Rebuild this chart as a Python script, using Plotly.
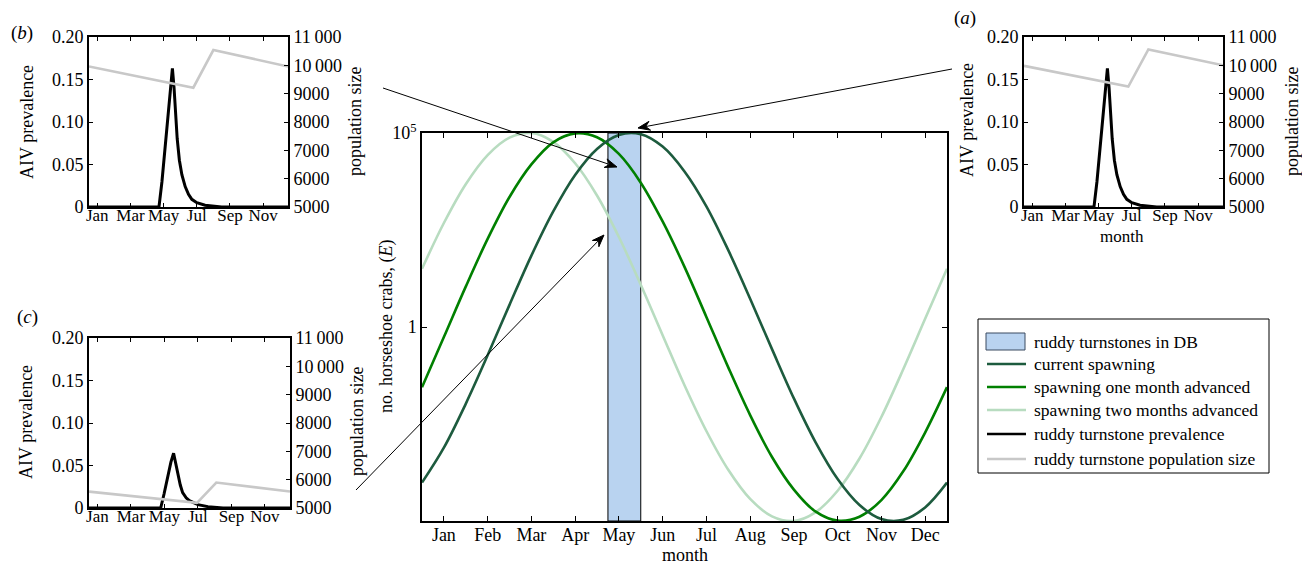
import math
import plotly.graph_objects as go

# The page body has an 8 px default margin, so the figure is made 8 px smaller
# and all reference pixel positions are measured from the window's top-left corner.
OFF = 8
W, H = 1310 - OFF, 565 - OFF
FONT = "Liberation Serif, Times New Roman, serif"

# ---------------- data ----------------
months_main = ["Jan", "Feb", "Mar", "Apr", "May", "Jun", "Jul", "Aug", "Sep", "Oct", "Nov", "Dec"]
month_ticks_main = [0.5, 1.5, 2.5, 3.5, 4.5, 5.5, 6.5, 7.5, 8.5, 9.5, 10.5, 11.5]
months_small = ["Jan", "Mar", "May", "Jul", "Sep", "Nov"]
month_ticks_small = [0.5, 2.5, 4.5, 6.5, 8.5, 10.5]

# main panel: time in months, log10 of number of horseshoe crab eggs
t_main = [0, 0.5, 1, 1.5, 2, 2.5, 3, 3.5, 4, 4.5, 5, 5.5, 6, 6.5, 7, 7.5, 8, 8.5, 9, 9.5,
          10, 10.5, 11, 11.5, 12]
log10_E_current = [-4.01, -3.11, -1.98, -0.73, 0.57, 1.84, 2.98, 3.92, 4.59, 4.95, 4.97, 4.65,
                   4.01, 3.11, 1.98, 0.73, -0.57, -1.84, -2.98, -3.92, -4.59, -4.95, -4.97,
                   -4.65, -4.01]
log10_E_one_month = [-1.55, -0.26, 1.04, 2.27, 3.35, 4.19, 4.76, 4.99, 4.89, 4.46, 3.72, 2.72,
                     1.55, 0.26, -1.04, -2.27, -3.35, -4.19, -4.76, -4.99, -4.89, -4.46, -3.72,
                     -2.72, -1.55]
log10_E_two_months = [1.50, 2.68, 3.68, 4.43, 4.88, 5.00, 4.77, 4.22, 3.39, 2.32, 1.09, -0.21,
                      -1.50, -2.68, -3.68, -4.43, -4.88, -5.00, -4.77, -4.22, -3.39, -2.32,
                      -1.09, 0.21, 1.50]
turnstone_window = [4.25, 5.0]  # months: ruddy turnstones in Delaware Bay

# panel (a): current spawning
prev_a_t = [0, 4.22, 4.4, 4.6, 4.8, 4.95, 5.03, 5.13, 5.22, 5.32, 5.45, 5.6, 5.8, 6.0, 6.2, 6.5,
            7.0, 7.5, 8.0, 12]
prev_a = [0, 0, 0.03, 0.075, 0.12, 0.152, 0.163, 0.14, 0.11, 0.08, 0.055, 0.038, 0.024, 0.015,
          0.009, 0.005, 0.002, 0.001, 0, 0]
pop_a_t = [0, 6.29, 7.5, 12]
pop_a = [9980, 9250, 10560, 10000]

# panel (b): spawning one month advanced
prev_b_t = [0, 4.22, 4.4, 4.6, 4.8, 4.95, 5.03, 5.13, 5.22, 5.32, 5.45, 5.6, 5.8, 6.0, 6.2, 6.5,
            7.0, 7.5, 8.0, 12]
prev_b = [0, 0, 0.03, 0.075, 0.12, 0.152, 0.163, 0.14, 0.11, 0.08, 0.055, 0.038, 0.024, 0.015,
          0.009, 0.005, 0.002, 0.001, 0, 0]
pop_b_t = [0, 6.29, 7.5, 12]
pop_b = [9960, 9210, 10540, 9960]

# panel (c): spawning two months advanced
prev_c_t = [0, 4.28, 4.48, 4.69, 4.89, 5.05, 5.17, 5.29, 5.45, 5.59, 5.8, 5.99, 6.5, 7.1, 8.0, 12]
prev_c = [0, 0, 0.0165, 0.036, 0.054, 0.0644, 0.052, 0.040, 0.027, 0.018, 0.012, 0.0086, 0.004,
          0.0016, 0, 0]
pop_c_t = [0, 6.45, 7.6, 12]
pop_c = [5580, 5180, 5900, 5580]

prev_ticks = [0, 0.05, 0.10, 0.15, 0.20]
prev_labels = ["0", "0.05", "0.10", "0.15", "0.20"]
pop_ticks = [5000, 6000, 7000, 8000, 9000, 10000, 11000]
pop_labels = ["5000", "6000", "7000", "8000", "9000", "10\u2009000", "11\u2009000"]

legend_labels = ["ruddy turnstones in DB", "current spawning", "spawning one month advanced",
                 "spawning two months advanced", "ruddy turnstone prevalence",
                 "ruddy turnstone population size"]

# ---------------- styles ----------------
C_CUR = "#1d5b3e"
C_ONE = "#008000"
C_TWO = "#b8dcc0"
C_BAR = "#b9d3f0"
C_PREV = "#000000"
C_POP = "#c8c8c8"
FS = 18


def px(x):
    return (x - OFF) / W


def py(y):
    return 1 - (y - OFF) / H


fig = go.Figure()

# ---------------- main panel ----------------
w0, w1 = turnstone_window
fig.add_trace(go.Scatter(x=[w0, w0, w1, w1, w0], y=[1e-5, 1e5, 1e5, 1e-5, 1e-5], mode="lines",
                         fill="toself", fillcolor=C_BAR, line=dict(color="black", width=1),
                         xaxis="x", yaxis="y", hoverinfo="skip"))
for vals, col in [(log10_E_two_months, C_TWO), (log10_E_one_month, C_ONE),
                  (log10_E_current, C_CUR)]:
    fig.add_trace(go.Scatter(x=t_main, y=[10 ** v for v in vals], mode="lines",
                             line=dict(color=col, width=2.6, shape="spline", smoothing=1.0),
                             xaxis="x", yaxis="y"))

# ---------------- small panels ----------------
panels = [
    ("x2", "y2", "y3", prev_b_t, prev_b, pop_b_t, pop_b),
    ("x3", "y4", "y5", prev_a_t, prev_a, pop_a_t, pop_a),
    ("x4", "y6", "y7", prev_c_t, prev_c, pop_c_t, pop_c),
]
for xa, yl, yr, pt, pv, qt, qv in panels:
    fig.add_trace(go.Scatter(x=qt, y=qv, mode="lines", line=dict(color=C_POP, width=2.6),
                             xaxis=xa, yaxis=yr))
    fig.add_trace(go.Scatter(x=pt, y=pv, mode="lines", line=dict(color=C_PREV, width=3),
                             xaxis=xa, yaxis=yl))


def ax_style(size, lw=1.5):
    return dict(showgrid=False, zeroline=False, showline=True, linecolor="black",
                linewidth=lw, ticks="inside", tickcolor="black", tickwidth=1,
                tickfont=dict(family=FONT, size=size, color="black"), automargin=False,
                tickangle=0)


layout = dict(
    width=W, height=H, margin=dict(l=0, r=0, t=0, b=0, pad=0, autoexpand=False),
    showlegend=False, paper_bgcolor="white", plot_bgcolor="white",
    font=dict(family=FONT, size=FS, color="black"),
    xaxis=dict(domain=[px(422), px(947)], range=[0, 12], tickvals=month_ticks_main,
               ticktext=months_main, anchor="y", mirror="ticks", ticklen=5,
               ticklabelstandoff=-3, **ax_style(FS)),
    yaxis=dict(domain=[py(521), py(133)], type="log", range=[-5, 5], tickvals=[1, 1e5],
               ticktext=["1", "10<sup>5</sup>"], anchor="x", mirror="ticks", ticklen=5,
               **ax_style(FS)),
)

small_dom = {
    "b": ([89, 288], [37, 207]),
    "a": ([1024, 1223], [37, 207]),
    "c": ([89, 290], [338, 508]),
}
for (xn, yln, yrn), key in [((2, 2, 3), "b"), ((3, 4, 5), "a"), ((4, 6, 7), "c")]:
    (x0, x1), (y0, y1) = small_dom[key]
    layout[f"xaxis{xn}"] = dict(domain=[px(x0), px(x1)], range=[0, 12],
                                tickvals=month_ticks_small, ticktext=months_small,
                                anchor=f"y{yln}", mirror="ticks", ticklen=4,
                                ticklabelstandoff=-8, **ax_style(17, 1.8))
    layout[f"yaxis{yln}"] = dict(domain=[py(y1), py(y0)], range=[0, 0.2], tickvals=prev_ticks,
                                 ticktext=prev_labels, anchor=f"x{xn}", ticklen=4,
                                 **ax_style(FS, 1.8))
    layout[f"yaxis{yrn}"] = dict(range=[5000, 11000], tickvals=pop_ticks, ticktext=pop_labels,
                                 overlaying=f"y{yln}", side="right", anchor=f"x{xn}", ticklen=4,
                                 **ax_style(FS, 1.8))

fig.update_layout(**layout)

# ---------------- text annotations ----------------
annots = []


def text(x, y, s, size=FS, angle=0, xanchor="center"):
    annots.append(dict(x=px(x), y=py(y), xref="paper", yref="paper", text=s, showarrow=False,
                       textangle=angle, xanchor=xanchor, yanchor="middle",
                       font=dict(family=FONT, size=size, color="black")))


text(386, 327, "no. horseshoe crabs, (<i>E</i>)", angle=-90)
text(685, 555, "month")
text(27, 122, "AIV prevalence", angle=-90)
text(355, 122, "population size", angle=-90)
text(967, 120, "AIV prevalence", angle=-90)
text(1292, 122, "population size", angle=-90)
text(1122, 236, "month", size=17)
text(26, 422, "AIV prevalence", angle=-90)
text(357, 422, "population size", angle=-90)
text(22, 33, "(<i>b</i>)", size=19)
text(965, 18, "(<i>a</i>)", size=19)
text(27, 317, "(<i>c</i>)", size=19)

shapes = []

# arrows (tip, tail) in pixels, drawn as a line plus a notched arrowhead
HEAD_L, HEAD_W, NOTCH = 12.0, 4.5, 0.35
for (tx, ty), (sx, sy) in [((617, 167), (383, 88)), ((638, 128), (952, 69)),
                           ((604, 235), (356, 490))]:
    dx, dy = tx - sx, ty - sy
    L = math.hypot(dx, dy)
    ux, uy = dx / L, dy / L
    nx, ny = -uy, ux
    bx, by = tx - ux * HEAD_L, ty - uy * HEAD_L
    mx, my = tx - ux * HEAD_L * (1 - NOTCH), ty - uy * HEAD_L * (1 - NOTCH)
    shapes.append(dict(type="line", xref="paper", yref="paper", x0=px(sx), y0=py(sy),
                       x1=px(mx), y1=py(my), line=dict(color="black", width=1)))
    pts = [(tx, ty), (bx + nx * HEAD_W, by + ny * HEAD_W), (mx, my),
           (bx - nx * HEAD_W, by - ny * HEAD_W)]
    path = "M " + " L ".join(f"{px(a):.5f},{py(b):.5f}" for a, b in pts) + " Z"
    shapes.append(dict(type="path", xref="paper", yref="paper", path=path,
                       fillcolor="black", line=dict(color="black", width=1)))

# legend (drawn by hand)
shapes += [dict(type="rect", xref="paper", yref="paper", x0=px(978), x1=px(1269), y0=py(473),
                y1=py(319), line=dict(color="black", width=1), fillcolor="white", layer="below"),
           dict(type="rect", xref="paper", yref="paper", x0=px(986), x1=px(1025), y0=py(350),
                y1=py(333), line=dict(color="#3a4a60", width=1), fillcolor=C_BAR)]
row_y = [342, 364, 387, 410, 434, 459]
line_cols = [None, C_CUR, C_ONE, C_TWO, C_PREV, C_POP]
for lab, yy, col in zip(legend_labels, row_y, line_cols):
    if col is not None:
        shapes.append(dict(type="line", xref="paper", yref="paper", x0=px(987), x1=px(1026),
                           y0=py(yy), y1=py(yy), line=dict(color=col, width=2.6)))
    text(1032, yy, lab, size=17.5, xanchor="left")

fig.update_layout(annotations=annots, shapes=shapes)
fig.write_html("out.html")
